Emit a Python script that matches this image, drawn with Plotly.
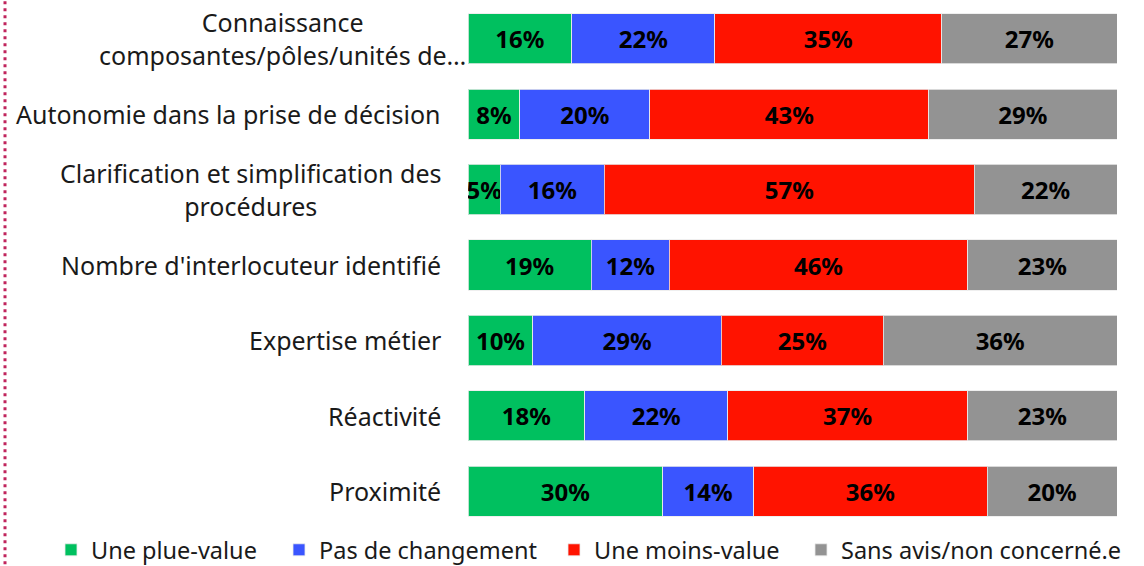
import plotly.graph_objects as go

categories = [
    "Connaissance<br>composantes/pôles/unités de…",
    "Autonomie dans la prise de décision",
    "Clarification et simplification des<br>procédures",
    "Nombre d'interlocuteur identifié",
    "Expertise métier",
    "Réactivité",
    "Proximité",
]
series_names = ["Une plue-value", "Pas de changement", "Une moins-value", "Sans avis/non concerné.e"]
plus_value = [16, 8, 5, 19, 10, 18, 30]
pas_changement = [22, 20, 16, 12, 29, 22, 14]
moins_value = [35, 43, 57, 46, 25, 37, 36]
sans_avis = [27, 29, 22, 23, 36, 23, 20]
colors = ["#00C05F", "#3A55FF", "#FF1300", "#939393"]

FONT = "Noto Sans"
L, R, T, B, W, H = 468, 27, 1, 37, 1144, 566
PW = W - L - R

# legend item left edges (px) for each series
legend_left_px = [51, 279, 554, 801]
legend_ids = ["legend", "legend2", "legend3", "legend4"]

fig = go.Figure()
for name, vals, col, lid in zip(series_names, [plus_value, pas_changement, moins_value, sans_avis], colors, legend_ids):
    fig.add_trace(go.Bar(
        y=categories, x=vals, name=name, orientation="h", legend=lid,
        marker=dict(color=col, line=dict(color="rgba(235,235,235,0.8)", width=1)),
        text=[f"{v}%" for v in vals], textposition="inside", insidetextanchor="middle",
        constraintext="none", textangle=0,
        textfont=dict(family=FONT, size=24, color="black", weight="bold"),
        hoverinfo="skip",
    ))

for i, c in enumerate(categories):
    fig.add_annotation(x=0, xref="paper", y=c, yref="y", text=c, showarrow=False,
                       xanchor="right", xshift=(0 if i == 0 else -25), align="center",
                       font=dict(family=FONT, size=25, color="#1a1a1a"))

fig.add_shape(type="line", xref="paper", yref="paper", x0=(5 - L) / PW, x1=(5 - L) / PW, y0=-0.08, y1=1.01,
              line=dict(color="#C0245C", width=3, dash="3px,4px"))

legend_style = dict(orientation="h", xanchor="left", y=-0.0398, yanchor="middle",
                    font=dict(family=FONT, size=23.5, color="#1a1a1a"),
                    itemwidth=30, bgcolor="rgba(0,0,0,0)")
layout_legends = {}
for lid, px in zip(legend_ids, legend_left_px):
    layout_legends[lid] = dict(x=(px - L) / PW, **legend_style)

fig.update_layout(
    barmode="stack", bargap=0.335,
    width=W, height=H,
    margin=dict(l=L, r=R, t=T, b=B, autoexpand=False),
    plot_bgcolor="white", paper_bgcolor="white",
    xaxis=dict(range=[0, 100], visible=False, fixedrange=True),
    yaxis=dict(categoryorder="array", categoryarray=categories, autorange="reversed",
               showticklabels=False, showgrid=False, zeroline=False),
    showlegend=True,
    font=dict(family=FONT),
    **layout_legends,
)
fig.write_html("out.html", config={"displayModeBar": False},
               post_script="document.body.style.margin='0';")
